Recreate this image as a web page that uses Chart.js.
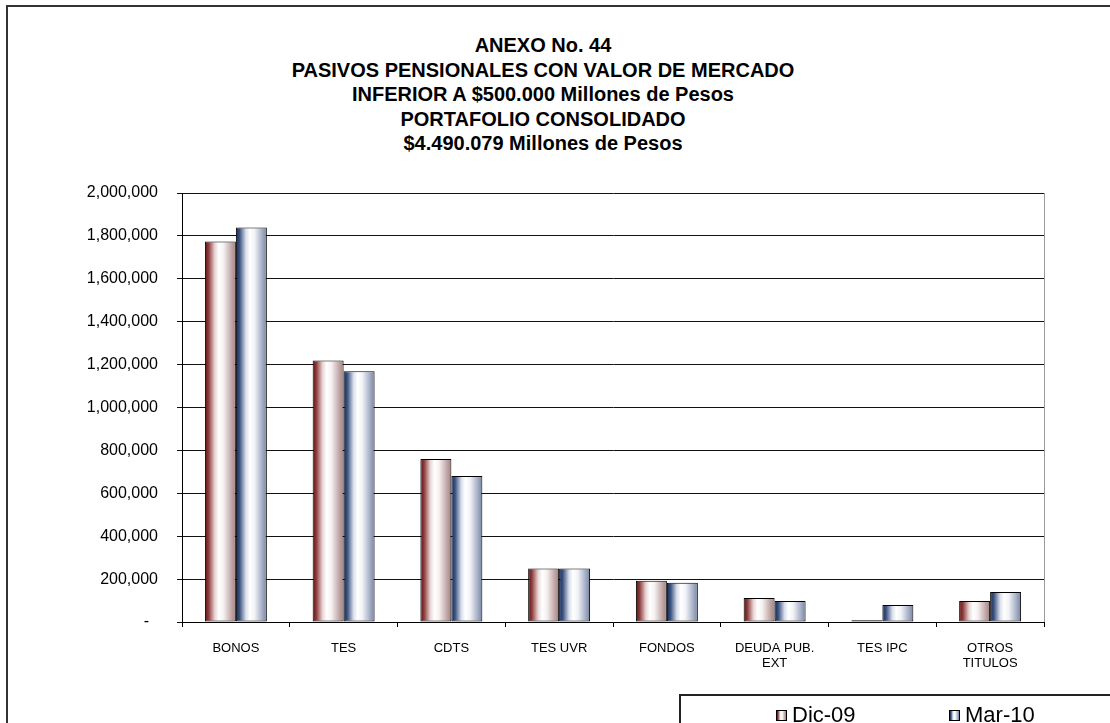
<!DOCTYPE html>
<html>
<head>
<meta charset="utf-8">
<script src="https://cdn.jsdelivr.net/npm/chart.js@4.4.1/dist/chart.umd.min.js"></script>
<style>
  html, body { margin: 0; padding: 0; background: #fff; }
  body { width: 1110px; height: 723px; position: relative; overflow: hidden; font-family: "Liberation Sans", Arial, sans-serif; }
  #frame { position: absolute; left: 6px; top: 5px; width: 2000px; height: 2000px; border-left: 2px solid #333; border-top: 2px solid #333; }
  #title { position: absolute; left: 0; top: 33px; width: 1086px; text-align: center; font-weight: bold; font-size: 20px; line-height: 24.5px; color: #000; }
  #chart { position: absolute; left: 0; top: 0; }
  #legend { position: absolute; left: 679px; top: 694px; width: 600px; height: 100px; border-left: 2px solid #222; border-top: 2px solid #222; }
  .item { position: absolute; top: 6px; font-size: 22px; line-height: 26px; color: #000; }
  .item i { position: absolute; top: 8px; width: 9px; height: 9px; border: 1px solid #000; }
  .item span { position: absolute; left: 16px; white-space: nowrap; }
</style>
</head>
<body>
<div id="frame"></div>
<div id="title">
  ANEXO No. 44<br>
  PASIVOS PENSIONALES CON VALOR DE MERCADO<br>
  INFERIOR A $500.000 Millones de Pesos<br>
  PORTAFOLIO CONSOLIDADO<br>
  $4.490.079 Millones de Pesos
</div>
<canvas id="chart" width="1110" height="723"></canvas>
<div id="legend"></div>
<script>
// categories and values (pesos, millions)
const categories = ['BONOS', 'TES', 'CDTS', 'TES UVR', 'FONDOS', ['DEUDA PUB.', 'EXT'], 'TES IPC', ['OTROS', 'TITULOS']];
const seriesNames = ['Dic-09', 'Mar-10'];
const dic09 = [1774000, 1219000, 760000, 250000, 192000, 112000, 8000, 98000];
const mar10 = [1839000, 1169000, 681000, 249000, 183000, 98000, 79000, 140000];
const yTicks = [0, 200000, 400000, 600000, 800000, 1000000, 1200000, 1400000, 1600000, 1800000, 2000000];

// shaded cylinder look: dark edge, white middle, muted right side
const redStops = [[0, '#5e1010'], [0.12, '#8e3c3c'], [0.32, '#e8d6d6'], [0.45, '#ffffff'], [0.6, '#f6f1f1'], [0.85, '#c2a8a8'], [1, '#a28080']];
const blueStops = [[0, '#142b57'], [0.12, '#3c5280'], [0.32, '#d9dfea'], [0.45, '#ffffff'], [0.6, '#f2f3f7'], [0.85, '#a4aec5'], [1, '#7884a2']];
const CAT_PCT = 0.575;

function barFill(stops) {
    return ctx => {
        const chart = ctx.chart;
        const x = chart.scales.x;
        if (!chart.chartArea || !x || ctx.type !== 'data') return stops[3][1];
        const group = x.width / categories.length * CAT_PCT;
        const w = group / 2;
        const left = x.getPixelForValue(ctx.dataIndex) - group / 2 + ctx.datasetIndex * w;
        const g = chart.ctx.createLinearGradient(left, 0, left + w, 0);
        stops.forEach(([o, c]) => g.addColorStop(o, c));
        return g;
    };
}

// thin grey line closing the plot on the right
const plotEdge = {
    id: 'plotEdge',
    afterDraw(chart) {
        const { ctx, chartArea: a } = chart;
        ctx.save();
        ctx.strokeStyle = '#9a9a9a';
        ctx.lineWidth = 1;
        ctx.beginPath();
        ctx.moveTo(Math.round(a.right) + 0.5, a.top);
        ctx.lineTo(Math.round(a.right) + 0.5, a.bottom);
        ctx.stroke();
        ctx.restore();
    }
};

const fmt = v => v === 0 ? '-  ' : v.toLocaleString('en-US');

new Chart(document.getElementById('chart').getContext('2d'), {
    type: 'bar',
    data: {
        labels: categories,
        datasets: [
            { label: seriesNames[0], data: dic09, backgroundColor: barFill(redStops) },
            { label: seriesNames[1], data: mar10, backgroundColor: barFill(blueStops) }
        ]
    },
    options: {
        responsive: false,
        animation: false,
        devicePixelRatio: 1,
        layout: { padding: { top: 193, right: 66, left: 0, bottom: 0 } },
        datasets: {
            bar: {
                categoryPercentage: CAT_PCT,
                barPercentage: 1,
                borderColor: '#000',
                borderWidth: 1,
                borderSkipped: false
            }
        },
        plugins: {
            legend: { display: false },
            title: { display: false },
            tooltip: { enabled: false }
        },
        scales: {
            x: {
                afterFit: s => { s.height = 101; },
                grid: { drawOnChartArea: false, offset: true, tickLength: 5, color: '#000' },
                border: { display: true, color: '#000', width: 1 },
                ticks: {
                    autoSkip: false, maxRotation: 0, padding: 14, color: '#000',
                    font: { family: 'Liberation Sans', size: 13, lineHeight: 1.15 }
                }
            },
            y: {
                min: 0,
                max: 2000000,
                afterFit: s => { s.width = 182; },
                afterBuildTicks: s => { s.ticks = yTicks.map(v => ({ value: v })); },
                grid: { color: '#111', tickLength: 5, lineWidth: 1 },
                border: { display: true, color: '#000', width: 1 },
                ticks: {
                    padding: 19, color: '#000',
                    font: { family: 'Liberation Sans', size: 16 },
                    callback: v => fmt(v)
                }
            }
        }
    },
    plugins: [plotEdge]
});

// legend boxes under the plot
const legend = document.getElementById('legend');
const cssGrad = stops => 'linear-gradient(to right, ' + stops.map(([o, c]) => c + ' ' + (o * 100) + '%').join(', ') + ')';
[[seriesNames[0], redStops, 95], [seriesNames[1], blueStops, 268]].forEach(([name, stops, left]) => {
    const d = document.createElement('div');
    d.className = 'item';
    d.style.left = left + 'px';
    d.innerHTML = '<i style="background:' + cssGrad(stops) + '"></i><span>' + name + '</span>';
    legend.appendChild(d);
});
</script>
</body>
</html>
